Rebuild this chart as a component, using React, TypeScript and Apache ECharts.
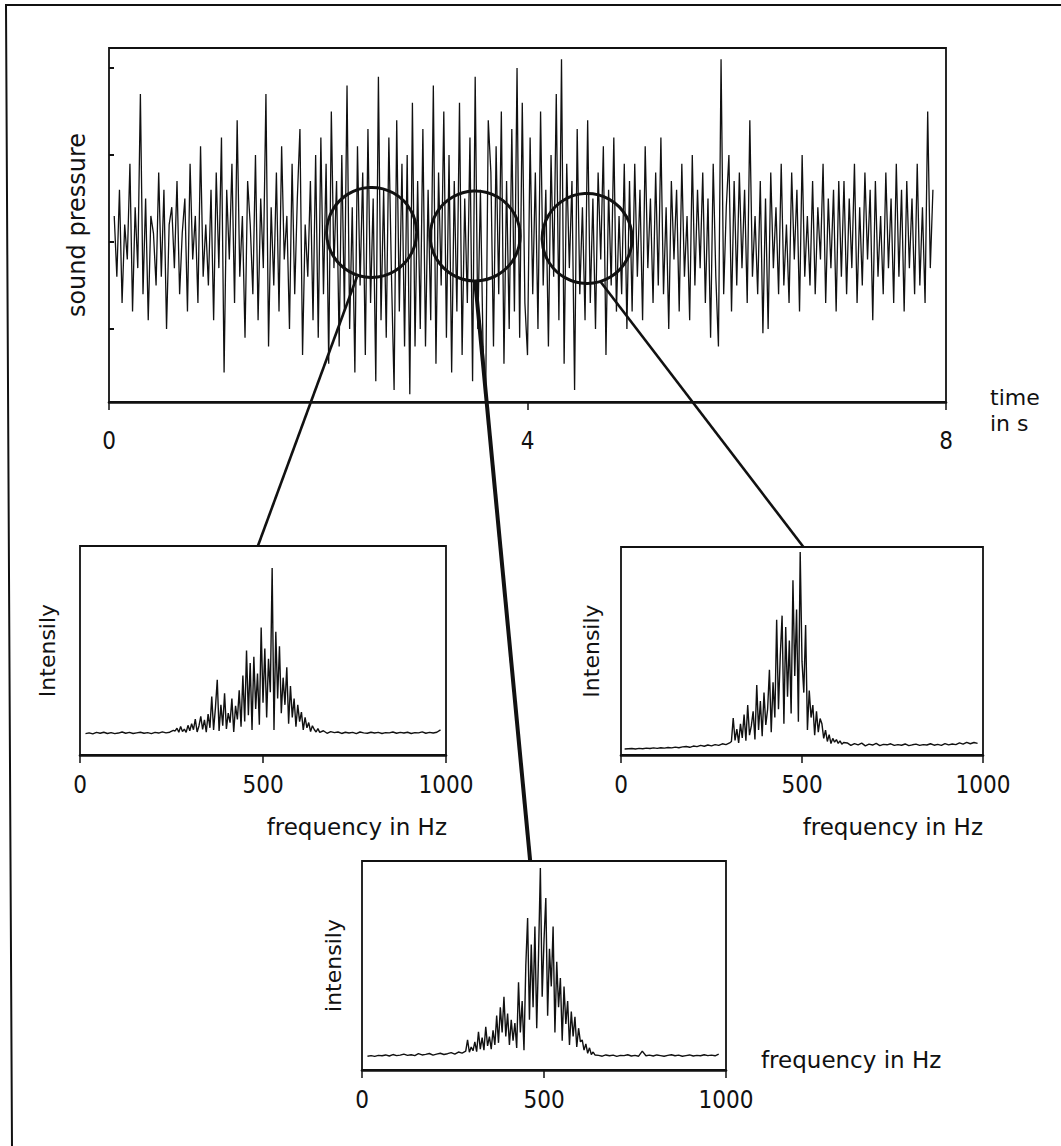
import React, { useEffect, useRef } from "react";
import * as echarts from "echarts";

// ---------- time signal (sound pressure, arbitrary units) ----------
const TIME_START = 0.05;
const TIME_STEP = 0.025;
const pressure0to1s = [0.3,-0.4,0.6,-0.7,0.2,-0.2,0.9,-0.8,0.4,-0.3,1.7,-0.6,0.5,-0.9,0.3,0.1,-0.5,0.8,-0.4,0.6,-1.0,0.2,0.4,-0.3,0.7,-0.6,0.1,0.5,-0.8,0.9,-0.2,0.3,-0.7,1.1,-0.4,0.2,-0.5,0.6];
const pressure1to2s = [-0.9,0.8,-0.3,1.2,-1.5,0.6,-0.2,0.9,-0.7,1.4,-0.4,0.3,-1.1,0.7,0.2,-0.6,1.0,-0.9,0.5,-0.3,1.7,-1.2,0.4,-0.5,0.8,-0.8,1.1,-0.2,0.3,-1.0,0.9,-0.6,0.5,1.3,-1.3,0.2,-0.4,0.7,-0.9,1.0];
const pressure2to3s = [-1.1,1.2,-0.6,0.9,-1.4,1.5,-0.3,0.7,-1.2,1.0,-0.8,1.8,-1.0,0.4,-1.5,1.1,-0.5,0.8,-1.3,1.3,-0.7,0.5,-1.6,1.9,-0.9,0.6,-1.1,1.2,-0.4,-1.7,1.4,-0.8,0.9,-1.2,1.0,-1.75,1.6,-1.2,0.7,-1.0];
const pressure3to4s = [1.3,-1.2,0.6,-0.9,1.8,-1.4,0.8,-0.5,1.5,-1.1,1.0,-1.5,0.7,-0.8,1.6,-1.3,0.5,-0.7,1.2,-1.6,1.9,-1.0,0.6,-1.2,-1.8,1.4,0.8,-1.2,1.1,-0.6,1.5,-1.4,0.7,-1.0,1.3,-0.8,2.0,-1.1,1.6,-0.7];
const pressure4to5s = [-1.3,1.2,-0.6,0.8,-1.0,1.5,-0.5,0.6,-1.2,1.0,-0.4,1.7,-0.9,2.1,-1.4,0.9,-0.3,0.7,-1.7,1.3,-0.6,0.4,-0.9,1.4,-0.7,0.5,-1.0,0.8,-0.2,1.1,-1.3,0.6,-0.5,1.2,-0.8,0.3,-0.6,0.9,-1.0,0.7];
const pressure5to6s = [-0.8,0.9,-0.4,0.6,-0.9,1.1,-0.3,0.5,-0.7,0.8,-0.5,1.2,-0.6,0.4,-1.0,0.7,-0.2,0.6,-0.8,0.9,-0.4,0.3,-0.9,1.0,-0.5,0.6,-0.3,0.8,-0.7,0.5,-1.1,0.9,-0.4,-1.2,2.1,-0.6,0.4,1.0,-0.8,0.7];
const pressure6to7s = [-0.5,0.8,-0.3,0.6,-0.7,1.4,-0.4,0.3,-0.6,0.7,-1.05,0.5,-1.0,0.8,-0.3,0.4,-0.6,0.9,-0.5,0.2,-0.7,0.8,-0.2,0.6,-0.8,1.0,-0.4,0.3,-0.5,0.7,-0.6,0.4,-0.2,0.9,-0.7,0.5,-0.3,0.6,-0.8,0.7];
const pressure7to8s = [-0.4,0.7,-0.6,0.5,-0.3,0.9,-0.7,0.4,-0.5,0.8,-0.2,0.6,-0.9,0.7,-0.4,0.3,-0.6,0.8,-0.3,0.5,-0.7,0.9,-0.4,0.6,-0.8,0.7,-0.3,0.5,-0.6,0.9,-0.5,0.4,-0.7,1.5,-0.3,0.6];
const pressureValues = [
  ...pressure0to1s, ...pressure1to2s, ...pressure2to3s, ...pressure3to4s,
  ...pressure4to5s, ...pressure5to6s, ...pressure6to7s, ...pressure7to8s,
];
const timeTicks = [0, 4, 8];
const pressureTickValues = [-1, 0, 1, 2];

// ---------- spectrum 1 (left) ----------
const spec1LowStart = 15;
const spec1Low = [10.2,10.6,10.1,10.8,10.4,10.9,10.3,10.7,10.2,10.5,11.0,10.4,10.8,10.3,10.6,10.9,10.4,10.7,10.2,10.8,10.5,11.1,10.6,10.9,11.8];
const spec1CoreStart = 260;
const spec1Core = [
  11.5,12.8,10.9,13.6,11.2,12.4,10.8,14.2,11.6,15.0,
  12.1,17.2,11.0,13.9,18.5,12.3,16.8,10.9,19.6,13.0,
  28.0,12.0,22.5,36.0,11.5,24.0,14.0,29.5,12.5,20.0,
  15.5,27.0,11.0,23.5,17.0,31.0,13.5,38.0,16.0,50.0,
  19.0,44.0,12.0,47.0,22.0,39.0,14.5,61.0,25.0,51.0,
  18.0,46.0,30.0,89.5,12.0,59.0,27.0,52.0,20.0,37.0,
  24.0,42.0,15.0,33.0,18.0,27.0,13.5,24.0,16.0,20.5,
  12.0,18.0,13.0,15.5,11.2,14.0,12.2,11.0,12.6,10.8,
];
const spec1HighStart = 665;
const spec1High = [11.6,10.4,11.2,10.7,11.0,10.3,10.9,10.5,10.8,10.2,11.0,10.6,10.4,10.9,10.5,10.8,10.3,10.7,10.6,11.0,10.4,10.8,10.5,10.9,10.3,10.7,10.6,11.1,10.4,10.8,10.5,10.9,12.0];

// ---------- spectrum 2 (right) ----------
const spec2LowStart = 10;
const spec2Low = [2.9,3.0,3.1,2.9,3.2,3.0,3.3,3.1,3.4,3.2,3.5,3.3,3.6,3.4,3.8,3.5,3.9,4.1,3.7,4.3,4.0,4.6,4.2,4.8,4.4,5.0,4.6,5.4,5.0,5.8];
const spec2CoreStart = 305;
const spec2Core = [
  6.5,17.8,7.0,12.5,5.8,15.0,8.2,19.5,6.9,24.0,
  9.5,14.0,21.0,7.5,33.6,12.0,26.0,9.0,30.0,14.5,
  22.0,41.0,11.0,35.0,18.0,65.0,22.0,48.0,67.0,15.0,
  61.5,28.0,55.0,20.0,84.0,38.0,70.0,16.0,97.6,45.0,
  30.0,62.5,12.0,31.0,18.0,24.0,9.5,21.0,11.0,17.5,
  15.0,8.0,12.0,6.5,9.8,5.5,8.0,6.2,7.4,5.6,
  6.8,5.2,6.0,
];
const spec2HighStart = 625;
const spec2High = [5.8,4.6,5.5,4.9,5.7,4.4,5.2,4.8,5.6,4.5,5.1,4.9,5.4,4.6,5.0,4.7,5.3,4.5,4.9,5.2,4.6,5.0,4.8,5.4,4.7,5.1,4.6,5.5,4.9,5.3,5.0,5.8,5.2,6.1,5.4,6.0,5.6];

// ---------- spectrum 3 (bottom) ----------
const spec3LowStart = 15;
const spec3Low = [6.6,6.9,6.5,7.0,6.8,7.2,6.7,7.4,6.9,7.1,7.6,7.0,7.3,6.9,7.8,7.2,7.5,7.9,7.1,7.6,8.0,7.4,7.8,8.3,7.6,8.6,8.1,9.0];
const spec3CoreStart = 290;
const spec3Core = [
  14.4,8.5,11.0,9.2,13.5,8.8,18.3,10.0,15.5,9.5,
  20.7,11.5,16.0,10.0,19.0,12.0,26.0,13.0,30.0,18.0,
  35.0,16.0,27.0,12.0,24.0,14.0,22.5,10.5,42.0,18.0,
  33.0,9.5,50.0,72.7,24.0,60.0,30.0,68.6,20.0,55.0,
  96.7,35.0,62.0,82.3,26.0,58.0,40.0,68.6,18.0,51.8,
  30.0,44.0,14.0,39.9,22.0,33.0,12.0,28.0,16.0,25.5,
  11.0,20.0,13.5,14.4,9.5,12.5,8.0,10.6,7.4,8.6,
  7.2,
];
const spec3HighStart = 650;
const spec3High = [7.0,6.6,7.2,6.8,7.1,6.5,7.0,6.9,7.3,6.7,7.0,6.6,9.0,6.8,7.1,6.7,7.2,6.9,6.6,7.0,7.3,6.8,7.1,6.6,6.9,7.2,6.7,7.0,6.8,7.3,6.9,7.1,6.8,7.6];

const freqTicks = [0, 500, 1000];

// zoom annotations (in data coordinates of the time signal)
const zoomCenters = [[2.51, 0.12], [3.5, 0.07], [4.57, 0.05]];
const connectorFrom = [[2.37, -0.4], [3.5, -0.45], [4.7, -0.46]];
const connectorTo = [
  { grid: 1, freq: 486 },
  { grid: 3, freq: 462 },
  { grid: 2, freq: 504 },
];

const seq = (start: number, step: number, vals: number[]) =>
  vals.map((v, i) => [Math.round((start + i * step) * 1000) / 1000, v]);

const FONT = "'DejaVu Sans', sans-serif";
const NUMFONT = "'DejaVu Sans Condensed', 'DejaVu Sans', sans-serif";
const INK = "#111";
const plain = (v: number) => String(v);

export default function App() {
  const ref = useRef<HTMLDivElement>(null);
  useEffect(() => {
    if (!ref.current) return;
    const chart = echarts.init(ref.current, null, { renderer: "svg" });

    const signal = seq(TIME_START, TIME_STEP, pressureValues);
    const s1 = [
      ...seq(spec1LowStart, 10, spec1Low),
      ...seq(spec1CoreStart, 5, spec1Core),
      ...seq(spec1HighStart, 10, spec1High),
    ];
    const s2 = [
      ...seq(spec2LowStart, 10, spec2Low),
      ...seq(spec2CoreStart, 5, spec2Core),
      ...seq(spec2HighStart, 10, spec2High),
    ];
    const s3 = [
      ...seq(spec3LowStart, 10, spec3Low),
      ...seq(spec3CoreStart, 5, spec3Core),
      ...seq(spec3HighStart, 10, spec3High),
    ];

    const gridStyle = { show: true, borderColor: INK, borderWidth: 1.8, backgroundColor: "transparent" };
    const grids = [
      { left: 109, top: 48, width: 837, height: 354, ...gridStyle },
      { left: 80, top: 546, width: 366, height: 209, ...gridStyle },
      { left: 621, top: 547, width: 362, height: 208, ...gridStyle },
      { left: 362, top: 861, width: 364, height: 209, ...gridStyle },
    ];

    const freqAxis = (gi: number) => ({
      type: "value",
      gridIndex: gi,
      min: freqTicks[0],
      max: freqTicks[freqTicks.length - 1],
      interval: 500,
      axisLine: { show: true, onZero: false, lineStyle: { color: INK, width: 2.6 } },
      axisTick: { show: true, length: 8, lineStyle: { color: INK, width: 1.5 } },
      axisLabel: { fontSize: 24, fontFamily: NUMFONT, color: INK, margin: 18, formatter: plain },
      splitLine: { show: false },
    });
    const intensAxis = (gi: number, name: string, gap: number) => ({
      type: "value",
      gridIndex: gi,
      min: 0,
      max: 100,
      name,
      nameLocation: "middle",
      nameGap: gap,
      nameTextStyle: { fontSize: 22, fontFamily: FONT, color: INK },
      axisLine: { show: false },
      axisTick: { show: false },
      axisLabel: { show: false },
      splitLine: { show: false },
    });

    const lineSeries = (idx: number, data: number[][], width: number) => ({
      type: "line",
      xAxisIndex: idx,
      yAxisIndex: idx,
      data,
      showSymbol: false,
      symbol: "none",
      lineStyle: { color: INK, width },
      z: 3,
    });

    chart.setOption({
      animation: false,
      backgroundColor: "#fff",
      grid: grids,
      xAxis: [
        {
          type: "value",
          gridIndex: 0,
          min: timeTicks[0],
          max: timeTicks[timeTicks.length - 1],
          interval: 4,
          axisLine: { show: true, onZero: false, lineStyle: { color: INK, width: 2.6 } },
          axisTick: { show: true, length: 8, lineStyle: { color: INK, width: 1.5 } },
          axisLabel: { fontSize: 24, fontFamily: NUMFONT, color: INK, margin: 27, formatter: plain },
          splitLine: { show: false },
        },
        freqAxis(1),
        freqAxis(2),
        freqAxis(3),
      ],
      yAxis: [
        {
          type: "value",
          gridIndex: 0,
          min: -1.839,
          max: 2.23,
          name: "sound pressure",
          nameLocation: "middle",
          nameGap: 20,
          nameTextStyle: { fontSize: 24, fontFamily: FONT, color: INK },
          axisLine: { show: false, onZero: false },
          axisTick: {
            show: true,
            inside: true,
            length: 5,
            customValues: pressureTickValues,
            lineStyle: { color: INK, width: 2 },
          },
          axisLabel: { show: false },
          splitLine: { show: false },
        },
        intensAxis(1, "Intensily", 22),
        intensAxis(2, "Intensily", 19),
        intensAxis(3, "intensily", 18),
      ],
      series: [
        lineSeries(0, signal, 1.3),
        lineSeries(1, s1, 1.4),
        lineSeries(2, s2, 1.4),
        lineSeries(3, s3, 1.4),
      ],
    });

    const R = 45;
    const circles = zoomCenters.map((p) => {
      const [cx, cy] = chart.convertToPixel({ gridIndex: 0 }, p) as number[];
      return {
        type: "circle",
        z: 100,
        shape: { cx, cy, r: R },
        style: { fill: "none", stroke: INK, lineWidth: 3 },
      };
    });
    const connectors = connectorFrom.map((p, i) => {
      const [x1, y1] = chart.convertToPixel({ gridIndex: 0 }, p) as number[];
      const e = connectorTo[i];
      const [x2, y2] = chart.convertToPixel({ gridIndex: e.grid }, [e.freq, 100]) as number[];
      return {
        type: "line",
        z: 100,
        shape: { x1, y1, x2, y2 },
        style: { stroke: INK, lineWidth: i === 1 ? 4 : 2.6 },
      };
    });
    const txt = (text: string, x: number, y: number, align: string, size: number) => ({
      type: "text",
      z: 100,
      x,
      y,
      style: { text, fontSize: size, fontFamily: FONT, fill: INK, align, verticalAlign: "middle" },
    });

    chart.setOption({
      graphic: [
        {
          type: "polyline",
          z: 100,
          shape: { points: [[1061, 5], [6, 5], [12, 1146]] },
          style: { fill: "none", stroke: INK, lineWidth: 2 },
        },
        ...circles,
        ...connectors,
        txt("time", 990, 397, "left", 22),
        txt("in s", 990, 423, "left", 22),
        txt("frequency in Hz", 447, 827, "right", 23),
        txt("frequency in Hz", 983, 827, "right", 23),
        txt("frequency in Hz", 761, 1060, "left", 23),
      ],
    });

    return () => chart.dispose();
  }, []);

  return (
    <div
      ref={ref}
      style={{ position: "absolute", left: 0, top: 0, width: 1061, height: 1146, background: "#fff" }}
    />
  );
}
